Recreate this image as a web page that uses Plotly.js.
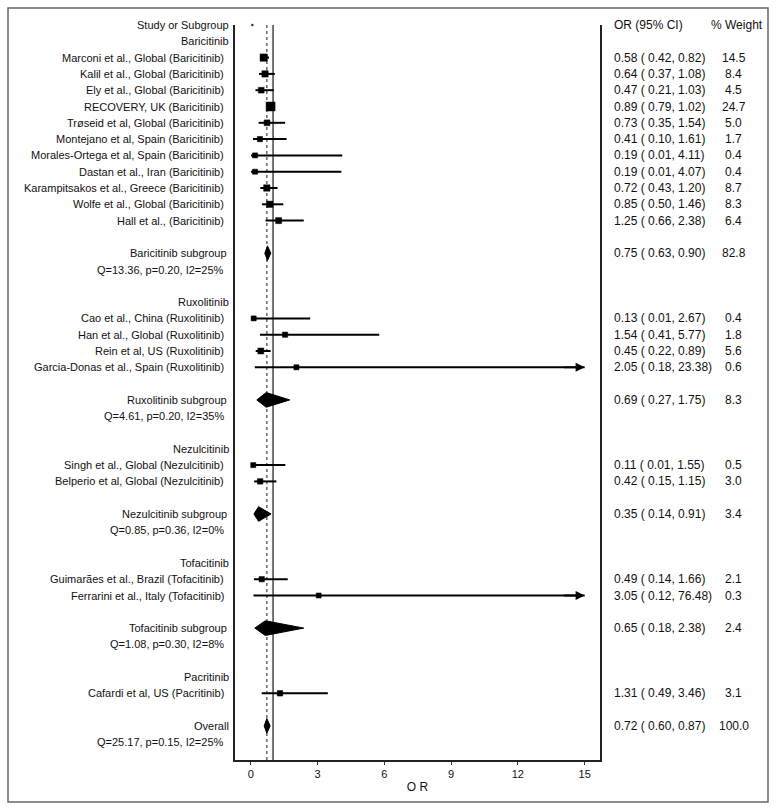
<!DOCTYPE html>
<html>
<head>
<meta charset="utf-8">
<script src="https://cdn.plot.ly/plotly-3.0.1.min.js"></script>
<style>
html,body{margin:0;padding:0;background:#fff;}
#chart{width:777px;height:811px;}
</style>
</head>
<body>
<div id="chart"></div>
<script>
// ---- Data ----
const groupNames = ["Baricitinib", "Ruxolitinib", "Nezulcitinib", "Tofacitinib", "Pacritinib"];

const studyNames = [
  "Marconi et al., Global (Baricitinib)",
  "Kalil et al., Global (Baricitinib)",
  "Ely et al., Global (Baricitinib)",
  "RECOVERY, UK (Baricitinib)",
  "Trøseid et al, Global (Baricitinib)",
  "Montejano et al, Spain (Baricitinib)",
  "Morales-Ortega et al, Spain (Baricitinib)",
  "Dastan et al., Iran (Baricitinib)",
  "Karampitsakos et al., Greece (Baricitinib)",
  "Wolfe et al., Global (Baricitinib)",
  "Hall et al., (Baricitinib)",
  "Cao et al., China (Ruxolitinib)",
  "Han et al., Global (Ruxolitinib)",
  "Rein et al, US (Ruxolitinib)",
  "Garcia-Donas et al., Spain (Ruxolitinib)",
  "Singh et al., Global (Nezulcitinib)",
  "Belperio et al, Global (Nezulcitinib)",
  "Guimarães et al., Brazil (Tofacitinib)",
  "Ferrarini et al., Italy (Tofacitinib)",
  "Cafardi et al, US (Pacritinib)"
];
const studyGroup = [0,0,0,0,0,0,0,0,0,0,0, 1,1,1,1, 2,2, 3,3, 4];
const studyOR  = [0.58,0.64,0.47,0.89,0.73,0.41,0.19,0.19,0.72,0.85,1.25, 0.13,1.54,0.45,2.05, 0.11,0.42, 0.49,3.05, 1.31];
const studyLo  = [0.42,0.37,0.21,0.79,0.35,0.10,0.01,0.01,0.43,0.50,0.66, 0.01,0.41,0.22,0.18, 0.01,0.15, 0.14,0.12, 0.49];
const studyHi  = [0.82,1.08,1.03,1.02,1.54,1.61,4.11,4.07,1.20,1.46,2.38, 2.67,5.77,0.89,23.38, 1.55,1.15, 1.66,76.48, 3.46];
const studyWeight = [14.5,8.4,4.5,24.7,5.0,1.7,0.4,0.4,8.7,8.3,6.4, 0.4,1.8,5.6,0.6, 0.5,3.0, 2.1,0.3, 3.1];

// subgroup pooled estimates (null = no subgroup row)
const subOR = [0.75, 0.69, 0.35, 0.65, null];
const subLo = [0.63, 0.27, 0.14, 0.18, null];
const subHi = [0.90, 1.75, 0.91, 2.38, null];
const subWeight = [82.8, 8.3, 3.4, 2.4, null];
const subStats = ["Q=13.36, p=0.20, I2=25%", "Q=4.61, p=0.20, I2=35%", "Q=0.85, p=0.36, I2=0%", "Q=1.08, p=0.30, I2=8%", null];

const overallOR = 0.72, overallLo = 0.60, overallHi = 0.87, overallWeight = 100.0;
const overallStats = "Q=25.17, p=0.15, I2=25%";

const xTicks = [0, 3, 6, 9, 12, 15];
const xMax = 15;

// ---- Build row layout ----
const FONT = "Liberation Sans, Arial, Helvetica, sans-serif";
const TXT = "#111";
const ann = [];
const fmt = (o,l,h) => `${o.toFixed(2)} ( ${l.toFixed(2)}, ${h.toFixed(2)})`;

function leftLabel(text, row, xp) {
  ann.push({xref:'paper', yref:'y', x:xp, y:row, text:text, showarrow:false,
    xanchor:'right', yanchor:'middle', font:{family:FONT, size:11, color:TXT}});
}
function rightLabels(o,l,h,w,row) {
  ann.push({xref:'paper', yref:'y', x:1.033, y:row, text:fmt(o,l,h), showarrow:false,
    xanchor:'left', yanchor:'middle', font:{family:FONT, size:12, color:TXT}});
  ann.push({xref:'paper', yref:'y', x:1.367, y:row, text:w.toFixed(1), showarrow:false,
    xanchor:'center', yanchor:'middle', font:{family:FONT, size:12, color:TXT}});
}

const XH = -0.012, XS = -0.024, XQ = -0.024;

// header row
let row = 0;
leftLabel("Study or Subgroup", row, XH);
ann.push({xref:'paper', yref:'y', x:1.033, y:row, text:"OR (95% CI)", showarrow:false,
  xanchor:'left', yanchor:'middle', font:{family:FONT, size:12, color:TXT}});
ann.push({xref:'paper', yref:'y', x:1.375, y:row, text:"% Weight", showarrow:false,
  xanchor:'center', yanchor:'middle', font:{family:FONT, size:12, color:TXT}});
row++;

const ciX = [], ciY = [], mkX = [], mkY = [], mkS = [];
const diamonds = [];
const arrows = [];

groupNames.forEach((g, gi) => {
  leftLabel(g, row, XH);
  row++;
  studyNames.forEach((n, si) => {
    if (studyGroup[si] !== gi) return;
    leftLabel(n, row, XS);
    rightLabels(studyOR[si], studyLo[si], studyHi[si], studyWeight[si], row);
    const hiC = Math.min(studyHi[si], xMax);
    ciX.push(studyLo[si], hiC, null); ciY.push(row, row, null);
    mkX.push(studyOR[si]); mkY.push(row); mkS.push(5 + 0.16*studyWeight[si]);
    if (studyHi[si] > xMax) arrows.push(row);
    row++;
  });
  row++; // blank
  if (subOR[gi] !== null) {
    leftLabel(g + " subgroup", row, XH - 0.005);
    rightLabels(subOR[gi], subLo[gi], subHi[gi], subWeight[gi], row);
    diamonds.push({o:subOR[gi], l:subLo[gi], h:subHi[gi], r:row});
    row++;
    leftLabel(subStats[gi], row, XQ);
    row++;
    row++; // blank
  }
});
leftLabel("Overall", row, XH);
rightLabels(overallOR, overallLo, overallHi, overallWeight, row);
diamonds.push({o:overallOR, l:overallLo, h:overallHi, r:row});
row++;
leftLabel(overallStats, row, XQ);

// ---- Traces ----
const traces = [];
traces.push({type:'scatter', mode:'lines', x:ciX, y:ciY, line:{color:'#000', width:2},
  hoverinfo:'skip', showlegend:false, cliponaxis:false});
traces.push({type:'scatter', mode:'markers', x:mkX, y:mkY,
  marker:{symbol:'square', size:mkS, color:'#000', opacity:1, line:{width:0.5, color:'#000'}},
  showlegend:false, cliponaxis:false});
const DH = 0.45;
diamonds.forEach(d => {
  traces.push({type:'scatter', mode:'lines', fill:'toself', fillcolor:'#000',
    x:[d.l, d.o, d.h, d.o, d.l], y:[d.r, d.r-DH, d.r, d.r+DH, d.r],
    line:{color:'#000', width:1}, showlegend:false, hoverinfo:'skip'});
});
// tiny dot on the header row
traces.push({type:'scatter', mode:'markers', x:[0.07], y:[0], marker:{size:2.5, color:'#333'},
  showlegend:false, cliponaxis:false, hoverinfo:'skip'});

arrows.forEach(r => {
  ann.push({x:xMax, y:r, ax:xMax-1, ay:r, xref:'x', yref:'y', axref:'x', ayref:'y',
    text:'', showarrow:true, arrowhead:2, arrowsize:1, arrowwidth:1.8, arrowcolor:'#000', standoff:0});
});

// ---- Layout ----
const L = 235, R = 177, T = 25, B = 51;
const PW = 777 - L - R, PH = 811 - T - B;
const rowPx = 16.3;
const yBottom = PH / rowPx;

const layout = {
  width:777, height:811,
  margin:{l:L, r:R, t:T, b:B, pad:0},
  paper_bgcolor:'#fff', plot_bgcolor:'#fff',
  showlegend:false,
  font:{family:FONT, size:11, color:TXT},
  xaxis:{range:[-0.71, 15.69], tickvals:xTicks, ticktext:xTicks.map(String),
    ticks:'outside', ticklen:3, tickwidth:1, tickcolor:'#333',
    showline:true, linecolor:'#222', linewidth:2, zeroline:false, showgrid:false,
    tickfont:{family:FONT, size:11, color:TXT},
    title:{text:'O R', font:{family:FONT, size:12, color:TXT}, standoff:3}},
  yaxis:{range:[yBottom, 0], showline:true, mirror:true, linecolor:'#222', linewidth:2,
    showticklabels:false, ticks:'', zeroline:false, showgrid:false},
  annotations:ann,
  shapes:[
    {type:'rect', xref:'paper', yref:'paper',
     x0:(8-L)/PW, x1:(768-L)/PW, y0:(PH+T-802)/PH, y1:(PH+T-8)/PH,
     line:{color:'#666', width:1.5}, layer:'below'},
    {type:'line', xref:'x', yref:'paper', x0:1, x1:1, y0:0, y1:1,
     line:{color:'#444', width:1.5}, layer:'below'},
    {type:'line', xref:'x', yref:'paper', x0:overallOR, x1:overallOR, y0:0, y1:1,
     line:{color:'#666', width:1.5, dash:'dot'}, layer:'below'}
  ]
};

Plotly.newPlot('chart', traces, layout, {displayModeBar:false, staticPlot:true});
</script>
</body>
</html>
